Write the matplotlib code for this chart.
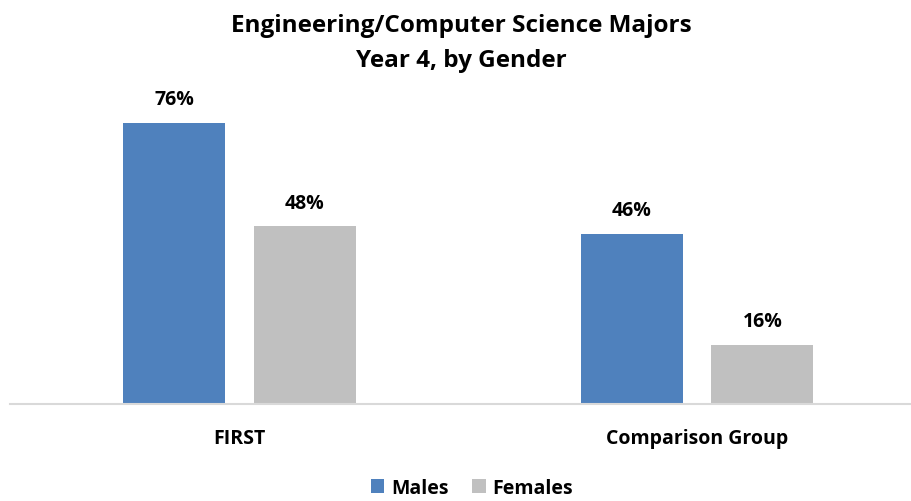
import matplotlib.pyplot as plt
import numpy as np

plt.rcParams['font.family'] = ['Open Sans', 'DejaVu Sans']

categories = ['FIRST', 'Comparison Group']
males = [76, 46]
females = [48, 16]
series_names = ['Males', 'Females']

blue = '#4F81BD'
gray = '#C0C0C0'

fig = plt.figure(figsize=(9.12, 5.02), dpi=100)
# axes spans baseline from x=10px to ~910px, baseline at y=405px
ax = fig.add_axes([10 / 912, 97 / 502, 900 / 912, 296 / 502])

x = np.arange(len(categories))
w = 0.223
off = 0.143
b1 = ax.bar(x - off, males, w, color=blue, label=series_names[0])
b2 = ax.bar(x + off, females, w, color=gray, label=series_names[1])

for bars in (b1, b2):
    for r in bars:
        ax.annotate(f'{r.get_height():.0f}%', (r.get_x() + r.get_width() / 2, r.get_height()),
                    xytext=(0, 17), textcoords='offset points', ha='center', va='center',
                    fontsize=14, fontweight='bold', color='black')

ax.set_xlim(-0.5016, 1.4656)
ax.set_ylim(0, 80)
ax.set_yticks([])
ax.set_xticks(x)
ax.set_xticklabels(categories, fontsize=14, fontweight='bold')
ax.tick_params(axis='x', length=0, pad=17)
for s in ['top', 'right', 'left']:
    ax.spines[s].set_visible(False)
ax.spines['bottom'].set_color('#D9D9D9')
ax.spines['bottom'].set_linewidth(1.5)

fig.text(461 / 912, 1 - 26 / 502, 'Engineering/Computer Science Majors', ha='center', va='center',
         fontsize=17.5, fontweight='bold')
fig.text(461 / 912, 1 - 61 / 502, 'Year 4, by Gender', ha='center', va='center',
         fontsize=17.5, fontweight='bold')

fig.legend(loc='center', bbox_to_anchor=(472 / 912, 1 - 489 / 502), ncol=2, frameon=False,
           prop={'size': 14, 'weight': 'bold'}, handlelength=0.7, handleheight=0.7,
           handletextpad=0.35, columnspacing=1.2)

fig.savefig('out.png', dpi=100)
